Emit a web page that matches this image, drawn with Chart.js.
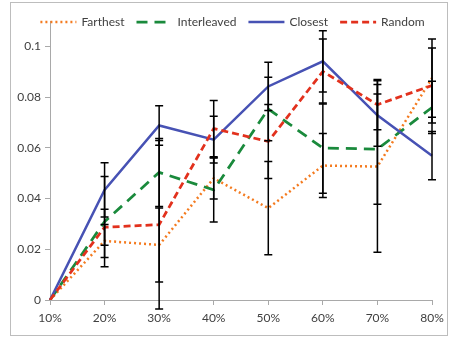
<!DOCTYPE html>
<html lang="en">
<head>
    <meta charset="UTF-8">
    <title>Error bar chart</title>
    <script src="https://cdn.jsdelivr.net/npm/chart.js"></script>
    <style>
        body { margin: 0; background: #ffffff; }
        canvas { display: block; }
    </style>
</head>
<body>
    <canvas id="errChart" width="451" height="338"></canvas>
    <script>
        // categories (x axis)
        const categories = ['10%', '20%', '30%', '40%', '50%', '60%', '70%', '80%'];

        // series values
        const farthest    = [0, 0.0233, 0.0217, 0.0480, 0.0362, 0.0530, 0.0526, 0.0875];
        const interleaved = [0, 0.0309, 0.0503, 0.0434, 0.0753, 0.0599, 0.0595, 0.0759];
        const closest     = [0, 0.0434, 0.0688, 0.0632, 0.0842, 0.0941, 0.0728, 0.0569];
        const random      = [0, 0.0287, 0.0297, 0.0676, 0.0625, 0.0901, 0.0770, 0.0846];

        // error bar half-lengths (+/-)
        const farthestErr    = [0, 0.0065, 0.0146, 0.0082, 0.0184, 0.0126, 0.0338, 0.0154];
        const interleavedErr = [0, 0.0178, 0.0134, 0.0126, 0.0125, 0.0178, 0.0217, 0.0103];
        const closestErr     = [0, 0.0107, 0.0078, 0.0092, 0.0095, 0.0121, 0.0122, 0.0095];
        const randomErr      = [0, 0.0071, 0.0332, 0.0111, 0.0146, 0.0128, 0.0099, 0.0148];

        // y axis ticks
        const yTicks = [0, 0.02, 0.04, 0.06, 0.08, 0.1];
        const yTickLabels = ['0', '0.02', '0.04', '0.06', '0.08', '0.1'];

        const axisGray = '#a9a9a9';
        Chart.defaults.font.family = 'Lato';
        Chart.defaults.font.size = 12;
        Chart.defaults.color = '#404040';

        // frame around the whole chart + white background
        const framePlugin = {
            id: 'frame',
            beforeDraw(chart) {
                const ctx = chart.ctx;
                ctx.save();
                ctx.fillStyle = '#ffffff';
                ctx.fillRect(0, 0, chart.width, chart.height);
                ctx.strokeStyle = '#bdbdbd';
                ctx.lineWidth = 1;
                ctx.strokeRect(10.5, 2.5, 437, 333);
                ctx.restore();
            }
        };

        // legend drawn over the top of the plot area, like in Excel
        const overlayLegend = {
            id: 'overlayLegend',
            afterDraw(chart) {
                const ctx = chart.ctx;
                const sampleW = 36, gap = 5, itemGap = 12, cy = 22;
                ctx.save();
                ctx.font = '12px Lato';
                ctx.textBaseline = 'middle';
                const items = chart.data.datasets.map(ds => ({
                    ds, w: sampleW + gap + ctx.measureText(ds.label).width
                }));
                const total = items.reduce((s, it) => s + it.w, 0) + itemGap * (items.length - 1);
                let x = 232.5 - total / 2;
                items.forEach(it => {
                    const ds = it.ds;
                    ctx.strokeStyle = ds.borderColor;
                    ctx.lineWidth = ds.borderWidth;
                    ctx.setLineDash(ds.borderDash || []);
                    ctx.beginPath();
                    ctx.moveTo(x, cy);
                    ctx.lineTo(x + sampleW, cy);
                    ctx.stroke();
                    ctx.setLineDash([]);
                    ctx.fillStyle = '#404040';
                    ctx.fillText(ds.label, x + sampleW + gap, cy + 0.5);
                    x += it.w + itemGap;
                });
                ctx.restore();
            }
        };

        // black error bars, drawn with the chart scales
        const errorBarPlugin = {
            id: 'errorBars',
            afterDatasetsDraw(chart) {
                const ctx = chart.ctx;
                const xs = chart.scales.x, ys = chart.scales.y;
                ctx.save();
                ctx.strokeStyle = '#000000';
                ctx.lineWidth = 1.5;
                chart.data.datasets.forEach(ds => {
                    ds.data.forEach((v, i) => {
                        const e = ds.errors[i];
                        if (!e) return;
                        const x = xs.getPixelForValue(i);
                        const yTop = ys.getPixelForValue(v + e);
                        const yBot = ys.getPixelForValue(v - e);
                        ctx.beginPath();
                        ctx.moveTo(x, yTop);
                        ctx.lineTo(x, yBot);
                        ctx.moveTo(x - 4, yTop);
                        ctx.lineTo(x + 4, yTop);
                        ctx.moveTo(x - 4, yBot);
                        ctx.lineTo(x + 4, yBot);
                        ctx.stroke();
                    });
                });
                ctx.restore();
            }
        };

        const config = {
            type: 'line',
            data: {
                labels: categories,
                datasets: [
                    {
                        label: 'Farthest',
                        data: farthest,
                        errors: farthestErr,
                        borderColor: '#f47b20',
                        borderWidth: 2.5,
                        borderDash: [2, 3],
                        order: 4
                    },
                    {
                        label: 'Interleaved',
                        data: interleaved,
                        errors: interleavedErr,
                        borderColor: '#1a8a3c',
                        borderWidth: 2.75,
                        borderDash: [11, 7],
                        order: 3
                    },
                    {
                        label: 'Closest',
                        data: closest,
                        errors: closestErr,
                        borderColor: '#4752b4',
                        borderWidth: 2.5,
                        order: 2
                    },
                    {
                        label: 'Random',
                        data: random,
                        errors: randomErr,
                        borderColor: '#e2311d',
                        borderWidth: 2.75,
                        borderDash: [7, 4],
                        order: 1
                    }
                ]
            },
            options: {
                responsive: false,
                animation: false,
                elements: {
                    point: { radius: 0, hoverRadius: 0 },
                    line: { tension: 0, fill: false }
                },
                layout: {
                    padding: { left: 0, right: 19, top: 21, bottom: 0 }
                },
                scales: {
                    x: {
                        type: 'category',
                        offset: false,
                        afterFit(scale) { scale.height = 38; },
                        grid: {
                            drawOnChartArea: false,
                            drawTicks: true,
                            tickLength: 5,
                            color: axisGray
                        },
                        border: { color: axisGray, width: 1 },
                        ticks: { maxRotation: 0, autoSkip: false, padding: 6 }
                    },
                    y: {
                        min: 0,
                        max: 0.11,
                        afterFit(scale) { scale.width = 50; },
                        afterBuildTicks(scale) {
                            scale.ticks = yTicks.map(v => ({ value: v }));
                        },
                        grid: {
                            drawOnChartArea: false,
                            drawTicks: true,
                            tickLength: 5,
                            color: axisGray
                        },
                        border: { color: axisGray, width: 1 },
                        ticks: {
                            padding: 4,
                            callback: (v, i) => yTickLabels[i]
                        }
                    }
                },
                plugins: {
                    legend: { display: false },
                    tooltip: { enabled: false },
                    title: { display: false }
                }
            },
            plugins: [framePlugin, errorBarPlugin, overlayLegend]
        };

        const errChart = new Chart(document.getElementById('errChart'), config);
    </script>
</body>
</html>
